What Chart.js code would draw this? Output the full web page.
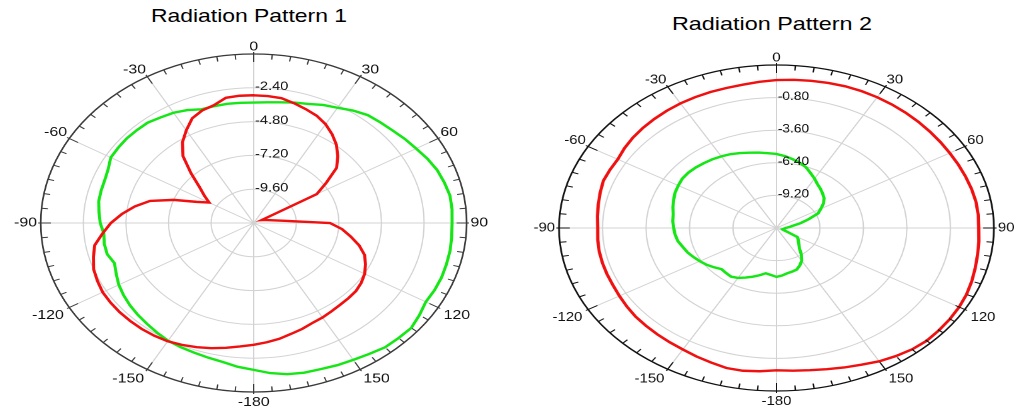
<!DOCTYPE html>
<html>
<head>
<meta charset="utf-8">
<title>Radiation Patterns</title>
<script src="https://cdn.jsdelivr.net/npm/chart.js@4.4.1/dist/chart.umd.min.js"></script>
<style>
    html, body { margin: 0; padding: 0; background: #fff; overflow: hidden; }
    body { width: 1017px; height: 409px; position: relative; font-family: "Liberation Sans", Arial, sans-serif; }
    .plot { position: absolute; top: 0; transform-origin: 0 0; }
    .title { position: absolute; width: 400px; text-align: center; font-size: 18.5px; line-height: 20px; color: #000; white-space: nowrap; transform-origin: 50% 50%; }
</style>
</head>
<body>
<div class="title" style="left:49px; top:6px; transform:scaleX(1.238)">Radiation Pattern 1</div>
<div class="title" style="left:572px; top:14px; transform:scaleX(1.263)">Radiation Pattern 2</div>
<canvas id="chart1" class="plot" width="390" height="409" style="left:7.6px; transform:scaleX(1.26)"></canvas>
<canvas id="chart2" class="plot" width="380" height="409" style="left:522.5px; transform:scaleX(1.334)"></canvas>

<script>
// Angles, clockwise from the top, 5 degree steps
const angles = [0, 5, 10, 15, 20, 25, 30, 35, 40, 45, 50, 55, 60, 65, 70, 75, 80, 85,
    90, 95, 100, 105, 110, 115, 120, 125, 130, 135, 140, 145, 150, 155, 160, 165, 170, 175,
    -180, -175, -170, -165, -160, -155, -150, -145, -140, -135, -130, -125, -120, -115, -110, -105, -100, -95,
    -90, -85, -80, -75, -70, -65, -60, -55, -50, -45, -40, -35, -30, -25, -20, -15, -10, -5];

// Radiation Pattern 1 (dB)
const pattern1Red = [-2.93, -2.95, -3.0, -3.2, -3.4, -3.6, -3.9, -4.3, -4.75, -5.3, -5.9, -7.0, -7.9, -11.5, -11.35, -11.2, -10.9, -10.25,
    -7.7, -7.0, -6.45, -5.85, -5.35, -5.05, -4.78, -4.6, -4.48, -4.45, -4.42, -4.35, -4.25, -4.17, -4.0, -3.85, -3.65, -3.5,
    -3.35, -3.2, -3.0, -2.8, -2.62, -2.45, -2.3, -2.23, -2.18, -2.16, -2.14, -2.15, -2.17, -2.28, -2.4, -2.65, -2.9, -3.45,
    -3.95, -4.55, -5.2, -5.95, -7.2, -8.45, -9.1, -8.6, -8.0, -7.0, -5.8, -5.0, -4.4, -3.8, -3.5, -3.34, -2.97, -2.93];
const pattern1Green = [-3.45, -3.4, -3.3, -3.15, -3.0, -2.75, -2.55, -2.25, -2.0, -1.9, -1.78, -1.6, -1.43, -1.2, -1.0, -0.88, -0.77, -0.78,
    -0.82, -0.8, -0.76, -0.75, -0.73, -0.75, -0.8, -0.6, -0.41, -0.45, -0.48, -0.65, -0.78, -0.86, -0.96, -1.0, -1.1, -1.3,
    -1.57, -1.75, -1.98, -2.1, -2.2, -2.27, -2.35, -2.5, -2.65, -2.77, -2.9, -3.05, -3.22, -3.45, -3.65, -3.45, -3.45, -3.52,
    -3.35, -3.25, -3.13, -3.1, -3.07, -2.95, -2.7, -2.68, -2.66, -2.68, -2.7, -2.85, -2.96, -3.15, -3.41, -3.41, -3.41, -3.43];

// Radiation Pattern 2 (dB)
const pattern2Red = [0.71, 0.78, 0.84, 0.9, 0.95, 0.97, 0.97, 0.95, 0.93, 0.91, 0.89, 0.88, 0.88, 0.91, 0.95, 1.0, 1.04, 1.04,
    1.02, 1.08, 1.15, 1.25, 1.38, 1.5, 1.58, 1.63, 1.66, 1.69, 1.6, 1.42, 1.22, 0.95, 0.75, 0.55, 0.4, 0.3,
    0.22, 0.35, 0.45, 0.45, 0.3, 0.18, 0.05, -0.02, -0.07, -0.12, -0.16, -0.24, -0.32, -0.38, -0.39, -0.4, -0.41, -0.45,
    -0.49, -0.43, -0.35, -0.25, -0.14, -0.17, -0.2, -0.05, 0.07, 0.16, 0.23, 0.3, 0.36, 0.4, 0.43, 0.45, 0.5, 0.6];
const pattern2Green = [-5.64, -5.8, -6.0, -6.2, -6.45, -6.8, -7.1, -7.4, -7.6, -7.8, -8.0, -8.3, -8.7, -9.05, -9.8, -10.4, -10.95, -11.2,
    -11.4, -11.5, -11.55, -11.6, -11.55, -11.25, -10.45, -10.3, -10.15, -9.95, -9.7, -9.2, -8.75, -8.45, -8.2, -8.12, -8.05, -7.9,
    -7.8, -7.95, -8.05, -7.8, -7.55, -7.3, -7.05, -6.9, -6.95, -7.0, -6.75, -6.5, -6.3, -6.1, -5.9, -5.75, -5.55, -5.45,
    -5.38, -5.3, -5.25, -5.1, -4.95, -4.8, -4.7, -4.6, -4.6, -4.65, -4.73, -4.8, -4.9, -5.0, -5.15, -5.3, -5.42, -5.55];

const FONT = '"Liberation Sans", Arial, sans-serif';

function drawText(ctx, text, x, y, sx) {
    ctx.save();
    ctx.translate(x, y);
    ctx.scale(sx, 1);
    ctx.fillText(text, 0, 0);
    ctx.restore();
}

// Outer axis ring with degree ticks, angle labels and ring values
const polarFrame = {
    id: 'polarFrame',
    afterDraw(chart, args, opts) {
        const scale = chart.scales.r;
        const ctx = chart.ctx;
        const R = scale.drawingArea;
        const count = chart.data.labels.length;
        const step = 360 / count;

        ctx.save();
        ctx.strokeStyle = opts.axisColor;
        ctx.lineWidth = 1.3;
        ctx.beginPath();
        ctx.arc(scale.xCenter, scale.yCenter, R, 0, Math.PI * 2);
        ctx.stroke();

        ctx.lineWidth = 1;
        for (let i = 0; i < count; i++) {
            const major = i % 6 === 0;
            const p1 = scale.getPointPosition(i, major ? R + 2 : R);
            const p2 = scale.getPointPosition(i, major ? R - 8 : R - 5);
            ctx.beginPath();
            ctx.moveTo(p1.x, p1.y);
            ctx.lineTo(p2.x, p2.y);
            ctx.stroke();
        }

        // angle labels every 30 degrees, aligned away from the ring
        ctx.fillStyle = '#111';
        ctx.font = opts.angleFont + 'px ' + FONT;
        ctx.textBaseline = 'middle';
        const h = opts.angleFont * 0.8;
        for (let i = 0; i < count; i += 6) {
            const deg = i * step;
            const side = deg === 90 || deg === 270;
            const top = deg < 90 || deg > 270;
            const pad = side ? 3 : (top ? 2 : 5);
            const p = scale.getPointPosition(i, R + pad);
            let y = p.y;
            if (!side) y += top ? -h / 2 : h / 2;
            ctx.textAlign = deg === 0 || deg === 180 ? 'center' : (deg < 180 ? 'left' : 'right');
            drawText(ctx, String(chart.data.labels[i]), p.x, y, opts.textScale);
        }

        // ring values along the 0 degree spoke
        ctx.font = opts.tickFont + 'px ' + FONT;
        ctx.textAlign = 'left';
        const ticks = scale.ticks;
        for (let k = 1; k < ticks.length - 1; k++) {
            const y = scale.yCenter - scale.getDistanceFromCenterForValue(ticks[k].value) - 1;
            drawText(ctx, ticks[k].value.toFixed(2), scale.xCenter + 1, y, opts.textScale);
        }
        ctx.restore();
    }
};

function makePolarChart(id, red, green, range, padding, frame) {
    return new Chart(document.getElementById(id), {
        type: 'radar',
        data: {
            labels: angles,
            datasets: [
                { data: red, borderColor: '#f01010', borderWidth: 2.4, pointRadius: 0, fill: false, tension: 0 },
                { data: green, borderColor: '#16e616', borderWidth: 2.4, pointRadius: 0, fill: false, tension: 0 }
            ]
        },
        options: {
            responsive: false,
            animation: false,
            devicePixelRatio: 2,
            layout: { padding: padding },
            plugins: {
                legend: { display: false },
                tooltip: { enabled: false },
                polarFrame: frame
            },
            scales: {
                r: {
                    min: range.min,
                    max: range.max,
                    ticks: { stepSize: range.step, display: false },
                    pointLabels: { display: false },
                    grid: { circular: true, color: '#d2d2d2', lineWidth: 1 },
                    angleLines: {
                        color: '#d2d2d2',
                        lineWidth: ctx => (ctx.index % 6 === 0 ? 1 : 0)
                    }
                }
            }
        },
        plugins: [polarFrame]
    });
}

makePolarChart('chart1', pattern1Red, pattern1Green,
    { min: -12, max: 0, step: 2.4 },
    { top: 54, bottom: 17, left: 20, right: 20 },
    { axisColor: '#3a3a3a', angleFont: 13, tickFont: 12, textScale: 0.97 });

makePolarChart('chart2', pattern2Red, pattern2Green,
    { min: -12, max: 2, step: 2.8 },
    { top: 65, bottom: 18, left: 20, right: 20 },
    { axisColor: '#111', angleFont: 13, tickFont: 12, textScale: 0.86 });
</script>
</body>
</html>
